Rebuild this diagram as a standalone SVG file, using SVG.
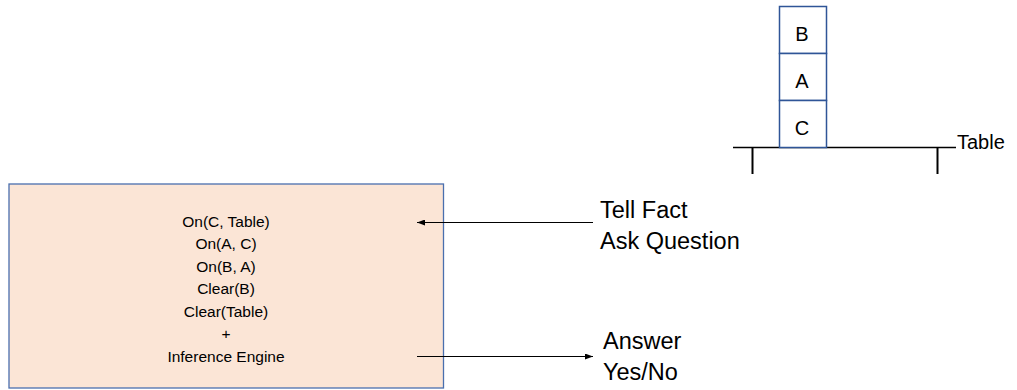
<svg xmlns="http://www.w3.org/2000/svg" width="1017" height="390" viewBox="0 0 1017 390">
  <style>
    text { font-family: "Liberation Sans", Arial, sans-serif; fill: #000; }
    .kb { font-size: 15.5px; text-anchor: middle; }
    .label { font-size: 23.5px; }
    .block rect { fill: #fff; stroke: #2F5597; stroke-width: 1.5; }
    .block text { font-size: 20px; text-anchor: middle; }
    .conn { stroke: #000; stroke-width: 1.2; fill: none; }
  </style>
  <defs>
    <marker id="arrow" markerWidth="8" markerHeight="6" refX="8" refY="3" orient="auto" markerUnits="userSpaceOnUse">
      <path d="M0,0 L8,3 L0,6 Z" fill="#000"/>
    </marker>
  </defs>

  <rect width="1017" height="390" fill="#fff"/>

  <!-- table with its legs -->
  <g id="table">
    <line x1="733" y1="147.5" x2="956" y2="147.5" stroke="#000" stroke-width="1.5"/>
    <line x1="752.5" y1="147" x2="752.5" y2="174" stroke="#000" stroke-width="2"/>
    <line x1="937.5" y1="147" x2="937.5" y2="174" stroke="#000" stroke-width="2"/>
    <text x="957" y="149" style="font-size:20px">Table</text>
  </g>

  <!-- stacked blocks -->
  <g id="block-b" class="block">
    <rect x="779.5" y="6.5" width="47" height="47"/>
    <text x="802" y="40.5">B</text>
  </g>
  <g id="block-a" class="block">
    <rect x="779.5" y="53.5" width="47" height="47"/>
    <text x="802" y="87.5">A</text>
  </g>
  <g id="block-c" class="block">
    <rect x="779.5" y="100.5" width="47" height="47"/>
    <text x="802" y="134.5">C</text>
  </g>

  <!-- knowledge base -->
  <g id="knowledge-base">
    <rect x="9" y="184" width="434.5" height="204" fill="#FBE5D6" stroke="#4A6FAE" stroke-width="1.3"/>
    <text class="kb" x="226" y="226.5">On(C, Table)</text>
    <text class="kb" x="226" y="249">On(A, C)</text>
    <text class="kb" x="226" y="271.5">On(B, A)</text>
    <text class="kb" x="226" y="294">Clear(B)</text>
    <text class="kb" x="226" y="316.5">Clear(Table)</text>
    <text class="kb" x="226" y="339">+</text>
    <text class="kb" x="226" y="361.5">Inference Engine</text>
  </g>

  <!-- input / output labels -->
  <g id="input-label">
    <text class="label" x="600" y="217.5">Tell Fact</text>
    <text class="label" x="600" y="248.5">Ask Question</text>
  </g>
  <g id="output-label">
    <text class="label" x="603" y="348.5">Answer</text>
    <text class="label" x="603" y="380">Yes/No</text>
  </g>

  <!-- connectors -->
  <g id="connectors">
    <line class="conn" x1="593" y1="222.5" x2="417" y2="222.5" marker-end="url(#arrow)"/>
    <line class="conn" x1="417" y1="356.5" x2="593" y2="356.5" marker-end="url(#arrow)"/>
  </g>
</svg>
